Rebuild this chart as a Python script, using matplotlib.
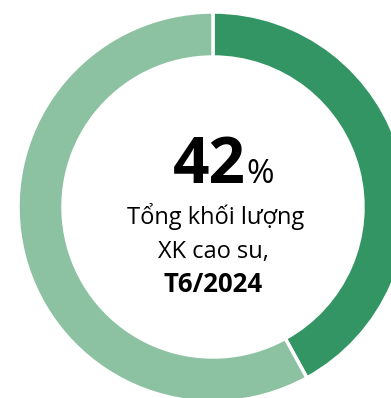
import matplotlib
matplotlib.use("Agg")
import matplotlib.pyplot as plt

# Share of rubber export volume, June 2024
labels = ["Cao su", "Khác"]
shares = [42, 58]
colors = ["#339564", "#8CC2A2"]

headline_value = "42"
headline_unit = "%"
caption_lines = ["Tổng khối lượng", "XK cao su,"]
caption_period = "T6/2024"

W, H = 391, 398
fig = plt.figure(figsize=(W / 100, H / 100), dpi=100)
ax = fig.add_axes([0, 0, 1, 1])

cx, cy = 213, H - 207
ax.pie(shares, colors=colors, startangle=90, counterclock=False,
       center=(cx, cy), radius=195, frame=True,
       wedgeprops=dict(width=45, edgecolor="white", linewidth=2.5))
ax.set_xlim(0, W)
ax.set_ylim(0, H)
ax.set_aspect("equal")
ax.axis("off")

font = "Open Sans"
ax.text(246, H - 183, headline_value, ha="right", va="baseline",
        fontsize=46, fontweight="bold", family=font, color="black")
ax.text(246, H - 183, headline_unit, ha="left", va="baseline",
        fontsize=24, family=font, color="black")
ax.text(216, H - 224, caption_lines[0], ha="center", va="baseline",
        fontsize=17, family=font, color="black")
ax.text(213, H - 258, caption_lines[1], ha="center", va="baseline",
        fontsize=17, family=font, color="black")
ax.text(213, H - 292, caption_period, ha="center", va="baseline",
        fontsize=18.5, fontweight="bold", family=font, color="black")

fig.savefig("out.png", dpi=100)
